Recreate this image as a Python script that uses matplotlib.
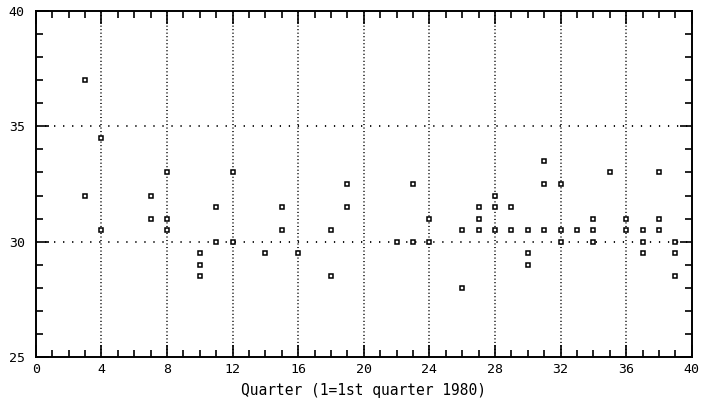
import matplotlib
matplotlib.use("Agg")
import matplotlib.pyplot as plt
from matplotlib.ticker import MultipleLocator

# Observations per quarter (1 = 1st quarter 1980)
quarters = [3, 3, 4, 4, 7, 7, 8, 8, 8, 10, 10, 10, 11, 11, 12, 12, 14, 15, 15, 16,
            18, 18, 19, 19, 22, 23, 23, 24, 24, 26, 26, 27, 27, 27, 28, 28, 28,
            29, 29, 30, 30, 30, 31, 31, 31, 32, 32, 32, 33, 34, 34, 34, 35,
            36, 36, 37, 37, 37, 38, 38, 38, 39, 39, 39]
values = [37, 32, 34.5, 30.5, 32, 31, 33, 31, 30.5, 29.5, 29, 28.5, 31.5, 30, 33, 30,
          29.5, 31.5, 30.5, 29.5, 30.5, 28.5, 32.5, 31.5, 30, 32.5, 30, 31, 30,
          30.5, 28, 31.5, 31, 30.5, 32, 31.5, 30.5, 31.5, 30.5, 30.5, 29.5, 29,
          33.5, 32.5, 30.5, 32.5, 30.5, 30, 30.5, 31, 30.5, 30, 33,
          31, 30.5, 30.5, 30, 29.5, 33, 31, 30.5, 30, 29.5, 28.5]

x_ticks = list(range(0, 41, 4))
y_ticks = [25, 30, 35, 40]
x_grid = [4, 8, 12, 16, 20, 24, 28, 32, 36]
y_grid = [30, 35]
x_label = "Quarter (1=1st quarter 1980)"

mono = "DejaVu Sans Mono"

fig = plt.figure(figsize=(7.03, 4.00), dpi=100)
ax = fig.add_axes([0.051, 0.1075, 0.933, 0.865])

ax.set_xlim(0, 40)
ax.set_ylim(25, 40)

for gx in x_grid:
    ax.axvline(gx, color="black", lw=1.1, linestyle=(0, (0.7, 1.6)), zorder=1)
for gy in y_grid:
    ax.axhline(gy, color="black", lw=1.3, linestyle=(0, (0.7, 4.3)), zorder=1)

ax.plot(quarters, values, linestyle="none", marker="s", ms=3.5,
        mfc="white", mec="black", mew=1.1, zorder=3)

ax.set_xticks(x_ticks)
ax.set_yticks(y_ticks)
ax.xaxis.set_minor_locator(MultipleLocator(1))
ax.yaxis.set_minor_locator(MultipleLocator(1))
ax.tick_params(which="both", direction="in", top=True, right=True,
               color="black", width=1.2)
ax.tick_params(which="major", length=9)
ax.tick_params(which="minor", length=5)
ax.tick_params(axis="x", which="major", pad=4)
ax.tick_params(axis="y", which="major", pad=8)

for lab in ax.get_xticklabels() + ax.get_yticklabels():
    lab.set_fontfamily(mono)
    lab.set_fontsize(9.5)

for sp in ax.spines.values():
    sp.set_linewidth(1.4)

ax.set_xlabel(x_label, fontfamily=mono, fontsize=10.5, labelpad=5)

fig.savefig("out.png", dpi=100)
